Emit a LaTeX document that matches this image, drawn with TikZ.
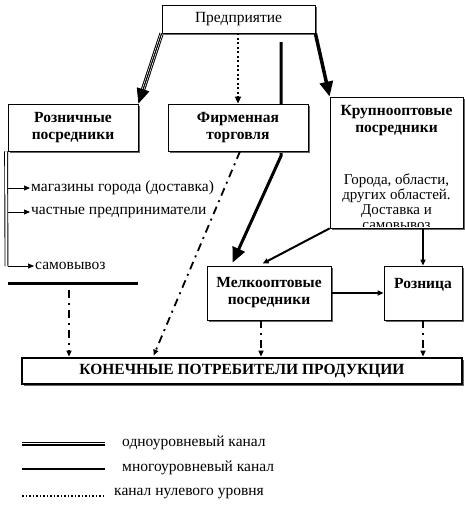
\documentclass[tikz,border=0pt]{standalone}
\usepackage{fontspec}
\setmainfont{Liberation Serif}
\usetikzlibrary{arrows.meta,shadows,calc}
\tikzset{
  box/.style={draw, fill=white, line width=0.8pt, align=center, inner sep=2pt,
    drop shadow={shadow xshift=1.6pt, shadow yshift=-1.6pt, fill=black!60, opacity=1}},
  hd/.style={font=\fontsize{15.5}{17}\selectfont\bfseries},
  txt/.style={font=\fontsize{15.5}{17}\selectfont, inner sep=1pt},
  triline/.style={line width=0.8pt, preaction={draw, line width=4.4pt}, preaction={draw=white, line width=2.4pt}},
  bigtip/.style={-{Triangle[length=15pt,width=13pt]}},
  tip/.style={-{Triangle[length=6pt,width=5pt]}},
  dotln/.style={line width=2pt, dash pattern=on 2pt off 2.5pt},
  dashdot/.style={line width=1.8pt, dash pattern=on 8pt off 5pt on 2pt off 5pt},
}
\begin{document}
\begin{tikzpicture}[x=1pt,y=-1pt]
\useasboundingbox (0,0) rectangle (465,507);
% boxes
\node[box, txt, minimum width=153pt, minimum height=28pt] (pred) at (238.5,19) {Предприятие};
\node[box, hd, minimum width=130pt, minimum height=47pt] (rozn) at (73,127.5) {Розничные\\посредники};
\node[box, minimum width=133pt, minimum height=131pt] (krup) at (396.5,162.5) {};
\node[box, hd, minimum width=124pt, minimum height=54pt] (melk) at (269,293) {Мелкооптовые\\посредники};
\node[box, hd, minimum width=78pt, minimum height=54pt] (roznica) at (423,293) {Розница\\[2pt]~};
\node[box, hd, line width=2.8pt, minimum width=440pt, minimum height=26pt] (kon) at (242,371) {КОНЕЧНЫЕ ПОТРЕБИТЕЛИ ПРОДУКЦИИ};
\begin{scope}
  \clip ($(krup.north west)+(1,1)$) rectangle ($(krup.south east)+(-1,-1.5)$);
  \node[hd, align=center] (ktitle) at (396.5,121) {Крупнооптовые\\посредники};
  \node[font=\fontsize{15}{15}\selectfont, align=center, anchor=north] (kbody) at (396.5,170) {Города, области,\\других областей.\\Доставка и\\самовывоз};
\end{scope}

% thick line behind the firm box
\coordinate (s1) at (281,42);
\coordinate (s2) at (281,156);
\coordinate (s3) at ($(melk.north west)+(26,-3)$);
\draw[line width=3pt, bigtip] (s1) -- (s2) -- (s3);
\node[box, hd, minimum width=140pt, minimum height=47pt] (firm) at (238,127.5) {Фирменная\\торговля};

% from the enterprise
\draw[triline] (pred.south west) -- ($(rozn.north east)!14pt!(pred.south west)$);
\draw[line width=0.8pt, bigtip] (pred.south west) -- (rozn.north east);
\draw[dotln, -{Triangle[length=7pt,width=6pt]}] (pred.south -| firm.north) -- (firm.north);
\draw[line width=3.5pt, bigtip] (pred.south east) -- (krup.north west);

% retail branch
\coordinate (v1) at ($(rozn.south west)+(-1.5,0)$);
\coordinate (v2) at (6.5,266);
\draw[line width=0.9pt, double, double distance=2pt] (v1) -- (v2);
\node[txt, anchor=west] (m1) at (30,188) {магазины города (доставка)};
\node[txt, anchor=west] (m2) at (30,212) {частные предприниматели};
\node[txt, anchor=west] (m3) at (34,266) {самовывоз};
\draw[line width=0.7pt, tip] (8,188) -- (m1.west);
\draw[line width=0.7pt, tip] (8,212) -- (m2.west);
\draw[line width=0.7pt, tip] (8,266) -- (m3.west);
\coordinate (b1) at (8,283);
\coordinate (b2) at (138,283);
\draw[line width=3pt] (b1) -- (b2);

% wholesale
\draw[line width=2pt, tip] (krup.south west) -- ($(melk.north west)+(56,-2)$);
\draw[line width=2pt, tip] (krup.south -| roznica.north) -- (roznica.north);
\draw[line width=2pt, tip] (melk.east) -- (roznica.west);

% to the end consumers
\draw[dashdot, tip] (69,290) -- (kon.north -| 69,0);
\draw[dashdot, tip] ($(firm.south)+(2,0)$) -- ($(kon.north west)+(133,-1)$);
\draw[dashdot, tip] (melk.south -| 261,0) -- (kon.north -| 261,0);
\draw[dashdot, tip] (roznica.south) -- (kon.north -| roznica.south);

% legend
\draw[triline] (22,444) -- (105,444);
\node[txt, anchor=west] (l1) at (121,443) {одноуровневый канал};
\draw[line width=2pt] (22,469) -- (105,469);
\node[txt, anchor=west] (l2) at (121,468) {многоуровневый канал};
\draw[line width=2pt, dash pattern=on 1.5pt off 2pt] (22,496) -- (105,496);
\node[txt, anchor=west] (l3) at (113,494) {канал нулевого уровня};
\end{tikzpicture}
\end{document}
